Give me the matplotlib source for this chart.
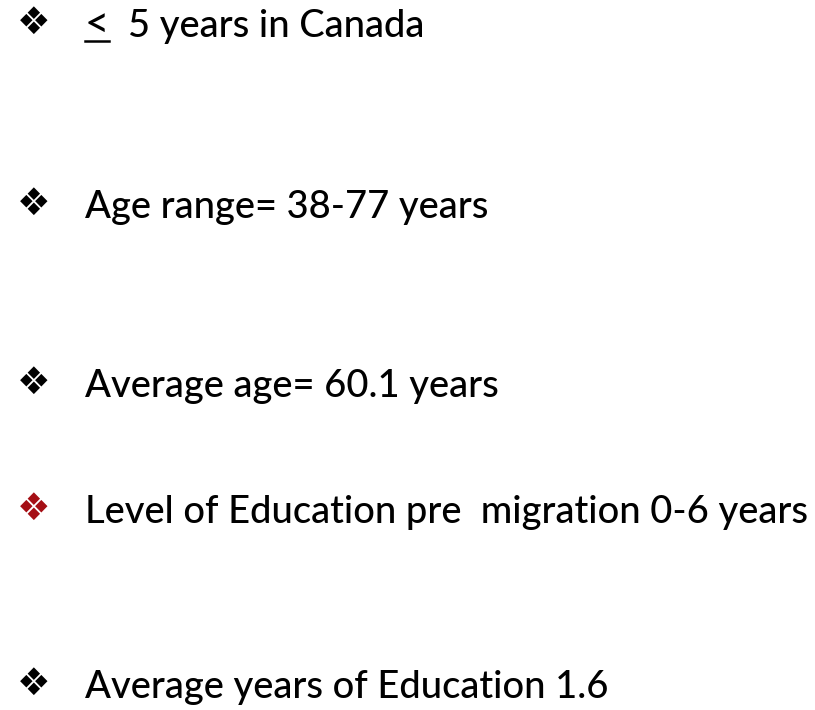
from matplotlib import pyplot as plt

# slide content
bullets = [
    "5 years in Canada",
    "Age range= 38-77 years",
    "Average age= 60.1 years",
    "Level of Education pre  migration 0-6 years",
    "Average years of Education 1.6",
]
bullet_colors = ["black", "black", "black", "#a50f15", "black"]
baselines = [37, 218, 397, 523, 698]  # px from top

W, H = 815, 710
font = ["Lato", "DejaVu Sans"]

fig = plt.figure(figsize=(W / 100, H / 100), dpi=100)
ax = fig.add_axes([0, 0, 1, 1])
ax.set_xlim(0, W)
ax.set_ylim(H, 0)
ax.axis("off")
renderer = fig.canvas.get_renderer()

# pick font size so the longest line spans x = 85..808
fs = 30
probe = ax.text(0, 0, bullets[3], fontsize=fs, family=font, fontweight="medium")
w = probe.get_window_extent(renderer).width
probe.remove()
fs = fs * 723 / w

for i, (txt, col, y) in enumerate(zip(bullets, bullet_colors, baselines)):
    ax.text(34, y - 13, "\u2756", color=col, fontsize=27, ha="center", va="center",
            family="DejaVu Sans")
    x0 = 85
    if i == 0:
        lt = ax.text(x0, y, "<", fontsize=fs * 1.1, ha="left", va="baseline",
                     family=font, fontweight="medium")
        bb = lt.get_window_extent(renderer)
        ax.plot([bb.x0, bb.x1], [y + 4, y + 4], color="black", lw=1.8)
        x0 = 128
    ax.text(x0, y, txt, color="black", fontsize=fs, ha="left", va="baseline",
            family=font, fontweight="medium")

fig.savefig("out.png", dpi=100)
